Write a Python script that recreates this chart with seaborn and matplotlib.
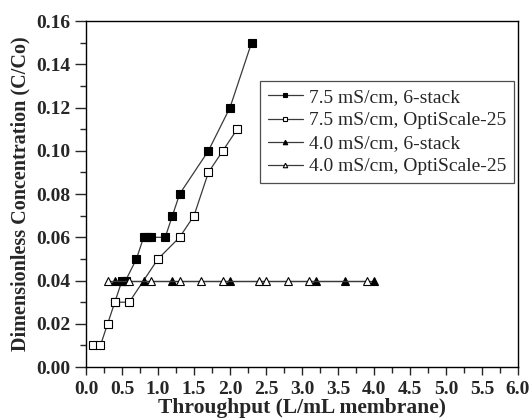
import matplotlib
matplotlib.use("Agg")
import matplotlib.pyplot as plt
from matplotlib.ticker import MultipleLocator, FormatStrFormatter
import seaborn as sns
import pandas as pd

# Breakthrough data: throughput (L/mL membrane) vs. C/Co
labels = ["7.5 mS/cm, 6-stack", "7.5 mS/cm, OptiScale-25",
          "4.0 mS/cm, 6-stack", "4.0 mS/cm, OptiScale-25"]

hi_stack_x = [0.4, 0.5, 0.55, 0.7, 0.8, 0.85, 0.9, 1.1, 1.2, 1.3, 1.7, 2.0, 2.3]
hi_stack_y = [0.03, 0.04, 0.04, 0.05, 0.06, 0.06, 0.06, 0.06, 0.07, 0.08, 0.10, 0.12, 0.15]

hi_opti_x = [0.1, 0.2, 0.3, 0.4, 0.6, 1.0, 1.3, 1.5, 1.7, 1.9, 2.1]
hi_opti_y = [0.01, 0.01, 0.02, 0.03, 0.03, 0.05, 0.06, 0.07, 0.09, 0.10, 0.11]

lo_stack_x = [0.4, 0.5, 0.8, 1.2, 2.0, 3.2, 3.6, 4.0]
lo_stack_y = [0.04, 0.04, 0.04, 0.04, 0.04, 0.04, 0.04, 0.04]

lo_opti_x = [0.3, 0.6, 0.9, 1.3, 1.6, 1.9, 2.4, 2.5, 2.8, 3.1, 3.9]
lo_opti_y = [0.04, 0.04, 0.04, 0.04, 0.04, 0.04, 0.04, 0.04, 0.04, 0.04, 0.04]

sns.set_style("ticks")
plt.rcParams["font.family"] = ["Liberation Serif", "DejaVu Serif"]

fig = plt.figure(figsize=(5.31, 4.20), dpi=100)
ax = fig.add_axes([0.162, 0.126, 0.8135, 0.824])

series = [
    (hi_stack_x, hi_stack_y, "s", "black"),
    (hi_opti_x, hi_opti_y, "s", "white"),
    (lo_stack_x, lo_stack_y, "^", "black"),
    (lo_opti_x, lo_opti_y, "^", "white"),
]

line_col = "#3a3a3a"
for (xs, ys, mk, fc), lab in zip(series, labels):
    df = pd.DataFrame({"x": xs, "y": ys})
    sns.lineplot(data=df, x="x", y="y", ax=ax, sort=False, estimator=None,
                 color=line_col, lw=0.9, marker=mk, markersize=5.4,
                 markerfacecolor=fc, markeredgecolor="black",
                 markeredgewidth=0.8, label=lab)

ax.set_xlim(0, 6.0)
ax.set_ylim(0, 0.16)
ax.xaxis.set_major_locator(MultipleLocator(0.5))
ax.xaxis.set_minor_locator(MultipleLocator(0.25))
ax.yaxis.set_major_locator(MultipleLocator(0.02))
ax.yaxis.set_minor_locator(MultipleLocator(0.01))
ax.xaxis.set_major_formatter(FormatStrFormatter("%.1f"))
ax.yaxis.set_major_formatter(FormatStrFormatter("%.2f"))

ax.tick_params(which="both", direction="out", width=1, top=False, right=False)
ax.tick_params(axis="x", which="major", length=6, pad=4, labelsize=14)
ax.tick_params(axis="x", which="minor", length=4)
ax.tick_params(axis="y", which="major", length=8, pad=3, labelsize=14)
ax.tick_params(axis="y", which="minor", length=4)
for lbl in ax.get_xticklabels() + ax.get_yticklabels():
    lbl.set_fontweight("bold")

for sp in ax.spines.values():
    sp.set_visible(True)
    sp.set_linewidth(1.0)
    sp.set_color("black")

ax.set_xlabel("Throughput (L/mL membrane)", fontsize=15.5, fontweight="bold",
              labelpad=0)
ax.set_ylabel("Dimensionless Concentration (C/Co)", fontsize=14.5,
              fontweight="bold", labelpad=4)

leg = ax.legend(loc="upper left", bbox_to_anchor=(0.403, 0.827),
                frameon=True, fancybox=False, edgecolor="#222222",
                fontsize=14, markerscale=0.6, handlelength=1.8,
                handletextpad=0.3, borderpad=0.4, labelspacing=0.28,
                borderaxespad=0)
leg.get_frame().set_linewidth(0.9)

fig.savefig("out.png", dpi=100)
